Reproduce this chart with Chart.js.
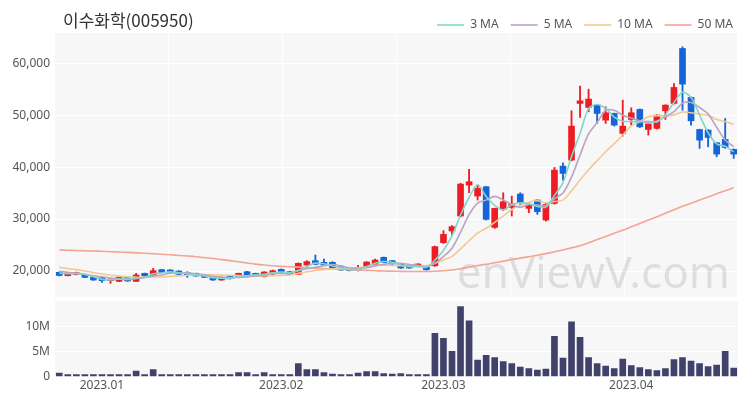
<!DOCTYPE html>
<html><head><meta charset="utf-8">
<script src="https://cdn.jsdelivr.net/npm/chart.js@4"></script>
<style>
html,body{margin:0;padding:0;background:#fff;}
#wrap{position:relative;width:750px;height:400px;overflow:hidden;}
#title{position:absolute;left:63px;top:8px;font-family:"Noto Sans CJK KR";font-size:17px;line-height:23px;color:#333;}
#c1{position:absolute;left:0;top:0;}
#c2{position:absolute;left:0;top:298px;}
</style></head>
<body><div id="wrap">
<canvas id="c1" width="750" height="298"></canvas>
<canvas id="c2" width="750" height="102"></canvas>
<div id="title">이수화학(005950)</div>
</div>
<script>
const categories = [
'2022-12-23','2022-12-26','2022-12-27','2022-12-28','2022-12-29',
'2023-01-02','2023-01-03','2023-01-04','2023-01-05','2023-01-06','2023-01-09','2023-01-10','2023-01-11','2023-01-12','2023-01-13',
'2023-01-16','2023-01-17','2023-01-18','2023-01-19','2023-01-20','2023-01-25','2023-01-26','2023-01-27','2023-01-30','2023-01-31',
'2023-02-01','2023-02-02','2023-02-03','2023-02-06','2023-02-07','2023-02-08','2023-02-09','2023-02-10','2023-02-13','2023-02-14',
'2023-02-15','2023-02-16','2023-02-17','2023-02-20','2023-02-21','2023-02-22','2023-02-23','2023-02-24','2023-02-27','2023-02-28',
'2023-03-02','2023-03-03','2023-03-06','2023-03-07','2023-03-08','2023-03-09','2023-03-10','2023-03-13','2023-03-14','2023-03-15',
'2023-03-16','2023-03-17','2023-03-20','2023-03-21','2023-03-22','2023-03-23','2023-03-24','2023-03-27','2023-03-28','2023-03-29',
'2023-03-30','2023-03-31','2023-04-03','2023-04-04','2023-04-05','2023-04-06','2023-04-07','2023-04-10','2023-04-11','2023-04-12',
'2023-04-13','2023-04-14','2023-04-17','2023-04-18','2023-04-19'];

const opens = [19750,19100,19300,19230,18780,18720,18140,18010,18780,18010,
19550,19040,20260,20200,20000,19680,19550,19300,18910,18270,
19040,18780,19870,19550,18910,19420,20320,19870,19360,21150,
21990,21670,21670,20830,20510,20070,20700,21090,22630,21990,
21350,21090,20960,20830,21000,25450,27700,30580,36540,34420,
36220,28400,31860,32250,34810,32050,33650,29810,33010,40190,
41350,52250,51480,51920,49040,50320,46480,49170,51090,47240,
47440,50830,52250,62820,53400,47240,47110,44680,45320,43400];
const highs = [19850,19600,19800,19300,18850,19000,18500,18900,18850,19550,
19600,20510,20300,20250,20050,19870,19600,19350,18950,18830,
19100,19600,19950,19600,19870,20200,20400,19950,21550,21990,
23080,22310,21800,20900,20600,21090,21800,22310,22700,22050,
21400,21150,21400,20900,24800,27760,28720,36900,39550,36540,
36300,32100,35060,34420,35060,32700,33700,33000,39930,40830,
50830,55580,54990,52000,51600,50400,52880,51410,51200,48400,
50100,52000,56090,63140,53500,47300,47200,44700,49360,43500];
const lows = [19050,19050,19250,18700,18200,17820,17630,17950,18000,17950,
18980,18980,19700,19750,19300,18780,18980,18720,18200,18200,
18450,18720,19150,19050,18850,19350,19500,19300,19300,20840,
21200,21050,20450,20100,20000,20000,20650,21000,21550,21300,
20500,20500,20900,20150,20900,25300,26920,30400,35060,33650,
29800,28200,31600,30580,32690,31220,30900,29600,32880,37500,
41200,49550,50640,48400,48400,47900,45960,48080,47600,46150,
47300,49170,52100,50960,48080,43590,43910,41990,43600,41670];
const closes = [19150,19550,19680,18780,18270,18140,18460,18780,18080,19230,
19040,20070,19740,19800,19360,19300,19040,18780,18270,18780,
18530,19550,19230,19100,19810,20070,19550,19360,21480,21800,
21280,21150,20510,20190,20070,20700,21730,22110,21600,21350,
20580,20580,21350,20250,24700,27050,28530,36730,37180,35900,
29940,32050,33330,32880,33200,32690,31410,32820,39420,38780,
47880,52750,53080,50320,50450,48080,47880,50450,47750,48270,
50000,51920,55320,55960,48910,45190,45700,42500,43780,42500];
// closes of the sessions just before the first visible one (for the short averages)
const prevCloses = [21900,21700,21500,21250,20900,20650,20300,19900,19750];
const ma50 = [24050,24000,23950,23900,23850,23800,23720,23650,23580,23500,
23420,23330,23230,23120,23000,22880,22750,22580,22400,22200,
22000,21780,21550,21330,21150,21000,20900,20830,20750,20650,
20560,20480,20400,20320,20250,20180,20120,20060,20010,19960,
19930,19910,19900,19900,19950,20050,20200,20450,20750,21050,
21300,21600,21900,22200,22480,22760,23050,23350,23700,24050,
24450,24850,25450,26050,26650,27250,27850,28500,29150,29800,
30450,31100,31800,32450,33050,33650,34250,34850,35450,36000];
const volumeM = [0.7,0.4,0.4,0.4,0.4,0.4,0.4,0.4,0.4,1.1,
0.4,1.4,0.4,0.4,0.4,0.4,0.4,0.4,0.4,0.4,
0.4,0.8,0.8,0.4,0.8,0.4,0.4,0.4,2.6,1.4,
1.4,0.8,0.5,0.4,0.4,0.7,1.0,1.0,0.6,0.5,
0.6,0.4,0.4,0.4,8.7,7.7,5.1,14.1,11.2,3.3,
4.3,3.8,3.0,2.6,1.9,1.6,1.3,1.5,8.1,3.7,
11.0,7.9,3.8,2.6,2.1,1.6,3.5,2.2,1.8,1.4,
1.2,1.6,3.4,3.8,3.1,2.6,2.0,2.3,5.1,1.7];
const priceTicks = [20000,30000,40000,50000,60000];
const volumeTicks = [0,5,10];
const xTickIdx = [5,26,45,67];
const xTickText = ['2023.01','2023.02','2023.03','2023.04'];

const RED = '#ee1c24', BLUE = '#1565d8';
const all = prevCloses.concat(closes);
function sma(n){
  return closes.map((c,i)=>{
    const j = i + prevCloses.length;
    let s = 0; for(let k=j-n+1;k<=j;k++) s += all[k];
    return s/n;
  });
}
const colors = closes.map((c,i)=> c>=opens[i] ? RED : BLUE);

const bgPlugin = {id:'bg', beforeDraw(chart){
  const {ctx, chartArea:a} = chart; ctx.save(); ctx.fillStyle='#f7f7f7';
  ctx.fillRect(a.left,a.top,a.right-a.left,a.bottom-a.top); ctx.restore();
}};
const wmPlugin = {id:'wm', beforeDatasetsDraw(chart){
  const {ctx, chartArea:a} = chart; ctx.save();
  ctx.font = '44px "Noto Sans"'; ctx.fillStyle='rgba(0,0,0,0.1)';
  ctx.textAlign='right'; ctx.textBaseline='alphabetic';
  ctx.fillText('enViewV.com', a.right-8, a.bottom-9); ctx.restore();
}};

const tickFont = {family:'"Noto Sans"', size:12};
const noPad = (s)=>{ s.paddingTop = 0; s.paddingBottom = 0; };
const lineDs = (label, data, color, order) => ({type:'line', label, data, borderColor:color, backgroundColor:color,
  borderWidth:1.6, pointRadius:0, tension:0.3, order, xAxisID:'x', yAxisID:'y'});

new Chart(document.getElementById('c1'), {
  type:'bar',
  data:{labels:categories, datasets:[
    lineDs('3 MA', sma(3), '#82d6c9', 1),
    lineDs('5 MA', sma(5), '#b9a3c6', 2),
    lineDs('10 MA', sma(10), '#f3c992', 3),
    lineDs('50 MA', ma50, '#f4a493', 4),
    {label:'body', data:opens.map((o,i)=>[o,closes[i]]), backgroundColor:colors, borderWidth:0,
      barThickness:6, minBarLength:1.5, grouped:false, order:10, xAxisID:'x', yAxisID:'y'},
    {label:'wick', data:lows.map((l,i)=>[l,highs[i]]), backgroundColor:colors, borderWidth:0,
      barThickness:1.2, grouped:false, order:11, xAxisID:'x', yAxisID:'y'}
  ]},
  options:{
    responsive:false, animation:false,
    layout:{padding:{left:0,right:5,top:7,bottom:1}},
    plugins:{
      tooltip:{enabled:false},
      legend:{position:'top', align:'end', maxHeight:26,
        labels:{filter:(it)=>it.text.indexOf('MA')>=0, usePointStyle:true, pointStyle:'line', pointStyleWidth:27,
          boxHeight:12, color:'#555', font:{family:'"Noto Sans"', size:12}, padding:12}}
    },
    scales:{
      x:{display:false},
      gx:{type:'linear', position:'bottom', min:0, max:5, ticks:{display:false, stepSize:1},
        afterFit(s){ s.height = 0; },
        grid:{color:'#ffffff', drawTicks:false}, border:{display:false}},
      yr:{type:'linear', position:'right', ticks:{display:false}, grid:{display:false}, border:{display:false},
        afterFit(s){ s.width = 7; noPad(s); }},
      y:{min:15000, max:65800, afterFit(s){ s.width=55; noPad(s); },
        afterBuildTicks(s){s.ticks = priceTicks.map(v=>({value:v}));},
        ticks:{color:'#555', font:tickFont, padding:5, callback:(v)=>v.toLocaleString('en-US')},
        grid:{color:'#ffffff', drawTicks:false}, border:{display:false}}
    }
  },
  plugins:[bgPlugin, wmPlugin]
});

new Chart(document.getElementById('c2'), {
  type:'bar',
  data:{labels:categories, datasets:[
    {label:'volume', data:volumeM, backgroundColor:'#41416b', borderWidth:0, barThickness:6, xAxisID:'x', yAxisID:'y'}
  ]},
  options:{
    responsive:false, animation:false,
    layout:{padding:{left:0,right:12,top:3,bottom:5}},
    plugins:{tooltip:{enabled:false}, legend:{display:false}},
    scales:{
      x:{afterBuildTicks(s){s.ticks = xTickIdx.map(v=>({value:v}));},
        ticks:{autoSkip:false, maxRotation:0, minRotation:0, color:'#555', font:tickFont, padding:2,
          callback:(v)=>{const k=xTickIdx.indexOf(v); return k>=0?xTickText[k]:'';}},
        grid:{display:false, drawTicks:false}, border:{display:false}},
      y:{min:0, max:15.2, afterFit(s){ s.width=55; noPad(s); },
        afterBuildTicks(s){s.ticks = volumeTicks.map(v=>({value:v}));},
        ticks:{color:'#555', font:tickFont, padding:5, callback:(v)=> v===0?'0':v+'M'},
        grid:{color:'#ffffff', drawTicks:false}, border:{display:false}}
    }
  },
  plugins:[bgPlugin]
});
</script>
</body></html>
